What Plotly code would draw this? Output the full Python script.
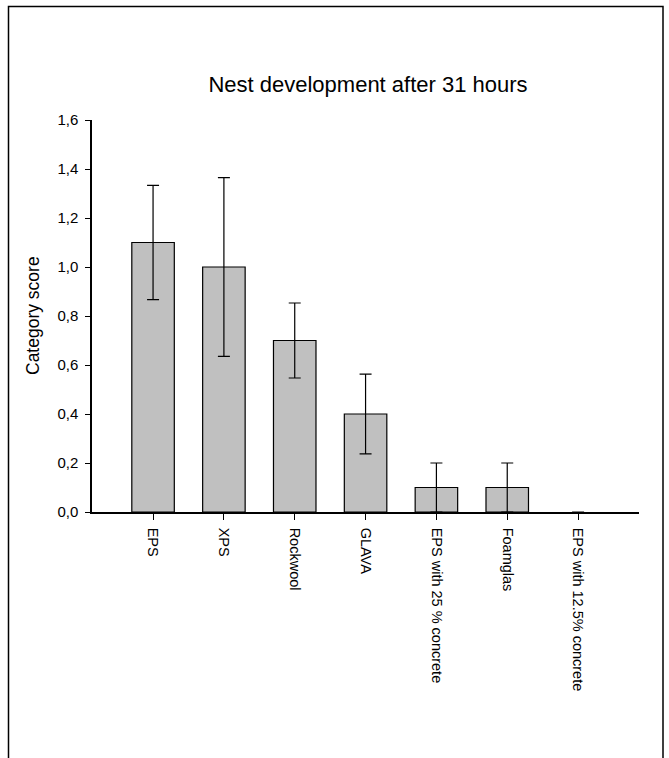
import plotly.graph_objects as go

categories = ["EPS", "XPS", "Rockwool", "GLAVA", "EPS with 25 % concrete", "Foamglas", "EPS with 12.5% concrete"]
scores = [1.1, 1.0, 0.7, 0.4, 0.1, 0.1, 0.0]
errors = [0.233, 0.365, 0.153, 0.163, 0.1, 0.1, None]
ytick_vals = [0.0, 0.2, 0.4, 0.6, 0.8, 1.0, 1.2, 1.4, 1.6]
ytick_text = ["0,0", "0,2", "0,4", "0,6", "0,8", "1,0", "1,2", "1,4", "1,6"]

W, H = 669, 758
L, R, T, B = 92, 30, 120, 246
pw = W - L - R
ph = H - T - B

outline_widths = [1.2 if v > 0 else 0 for v in scores]
err_vals = [e if e is not None else float("nan") for e in errors]

fig = go.Figure()
fig.add_trace(go.Bar(
    x=categories, y=scores, width=0.6,
    marker=dict(color="#c0c0c0", line=dict(color="black", width=outline_widths)),
    error_y=dict(type="data", array=err_vals, visible=True, color="black", thickness=1.2, width=6),
))

font_family = "Liberation Sans, Arial, sans-serif"

fig.update_layout(
    width=W, height=H,
    margin=dict(l=L, r=R, t=T, b=B, autoexpand=False),
    paper_bgcolor="white", plot_bgcolor="white",
    showlegend=False,
    font=dict(family=font_family, color="black"),
    title=dict(text="Nest development after 31 hours", x=368 / W, xanchor="center",
               y=1 - 84 / H, yanchor="middle", font=dict(size=22, color="black", family=font_family)),
    xaxis=dict(
        type="category", range=[-0.862, 6.86],
        showline=True, linecolor="black", linewidth=1.5,
        ticks="outside", ticklen=6, tickwidth=1, tickcolor="black",
        tickangle=90, tickfont=dict(size=14.5), ticklabelstandoff=5,
        showgrid=False, zeroline=False,
    ),
    yaxis=dict(
        range=[0, 1.6], tickvals=ytick_vals, ticktext=ytick_text,
        showline=True, linecolor="black", linewidth=1.5,
        ticks="outside", ticklen=5, tickwidth=1, tickcolor="black",
        tickfont=dict(size=15), ticklabelstandoff=4,
        showgrid=False, zeroline=False,
    ),
    bargap=0.4,
)

fig.add_annotation(
    text="Category score", xref="paper", yref="paper",
    x=(33 - L) / pw, y=(512 - 316) / ph, xanchor="center", yanchor="middle",
    textangle=-90, showarrow=False, font=dict(size=17.5, color="black", family=font_family),
)

fig.add_shape(
    type="rect", xref="paper", yref="paper",
    x0=(8.5 - L) / pw, x1=(663 - L) / pw,
    y0=(512 - 800) / ph, y1=(512 - 6.5) / ph,
    line=dict(color="black", width=1.5), fillcolor="rgba(0,0,0,0)", layer="below",
)

fig.write_html("out.html")
